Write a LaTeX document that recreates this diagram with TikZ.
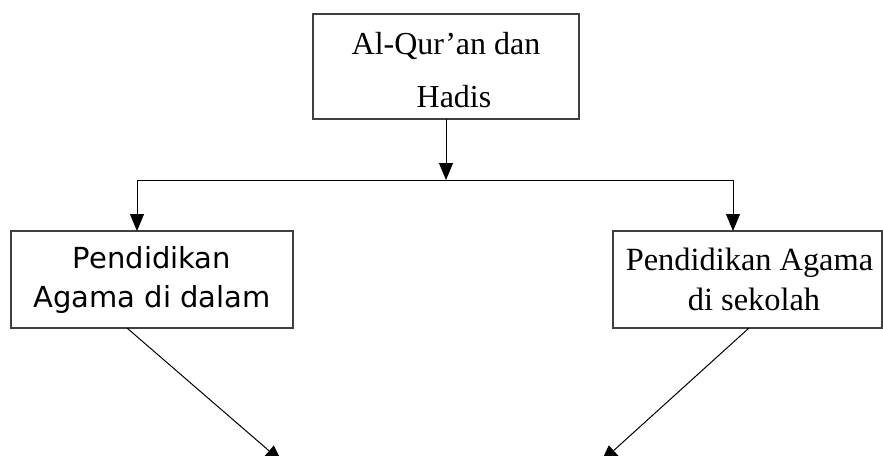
\documentclass[tikz,border=0pt]{standalone}
\usepackage{fontspec}
\setmainfont{Liberation Serif}
\newfontfamily\dejavu{DejaVu Sans}
\usetikzlibrary{arrows.meta}

\begin{document}
\begin{tikzpicture}[x=0.5pt, y=-0.5pt,
        kotak/.style={draw=black!75, line width=0.7pt, inner sep=0pt, outer sep=0pt, align=center},
        panah/.style={-{Triangle[length=8.5pt, width=7pt]}, line width=0.5pt}]
    \useasboundingbox (0,0) rectangle (883,455);
    \clip (0,0) rectangle (883,455);

    \node[kotak, minimum width=133pt, minimum height=52.5pt, font=\fontsize{16}{26.2}\selectfont] (quran) at (446,66.5) {\rule{0pt}{14.5pt}Al-Qur’an dan\\\hspace*{8pt}Hadis};
    \node[kotak, minimum width=141pt, minimum height=48.5pt, font=\dejavu\fontsize{14.5}{19.5}\selectfont] (keluarga) at (152,279.5) {Pendidikan\\Agama di dalam};
    \node[kotak, minimum width=134.5pt, minimum height=48.5pt, font=\fontsize{16.2}{20}\selectfont] (sekolah) at (747.5,279.5) {\hspace*{2pt}Pendidikan Agama\\\hspace*{6.5pt}di sekolah};

    % Garis cabang
    \coordinate (cabang) at (446,180);
    \coordinate (kiri) at (137,180);
    \coordinate (kanan) at (733,180);
    \draw[line width=0.5pt] (kiri) -- (kanan);
    \draw[panah] (quran) -- (cabang);
    \draw[panah] (kiri) -- (kiri |- keluarga.north);
    \draw[panah] (kanan) -- (kanan |- sekolah.north);

    % Ke bawah
    \coordinate (bawahkiri) at (282,462);
    \coordinate (bawahkanan) at (601,462);
    \draw[panah] ([xshift=-12.5pt]keluarga.south) -- (bawahkiri);
    \draw[panah] ([xshift=0.75pt]sekolah.south) -- (bawahkanan);
\end{tikzpicture}
\end{document}
